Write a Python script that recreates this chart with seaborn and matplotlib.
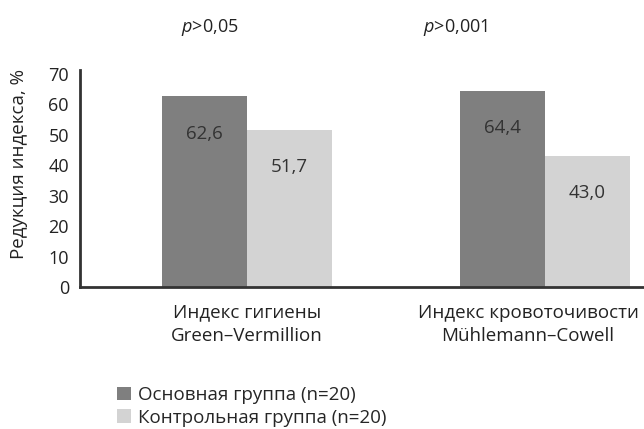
import matplotlib
matplotlib.use("Agg")
import matplotlib.pyplot as plt
from matplotlib.transforms import ScaledTranslation
import seaborn as sns
import pandas as pd

# Data
categories = ["Индекс гигиены\nGreen–Vermillion", "Индекс кровоточивости\nMühlemann–Cowell"]
groups = ["Основная группа (n=20)", "Контрольная группа (n=20)"]
main_values = [62.6, 64.4]
control_values = [51.7, 43.0]
p_labels = ["0,05", "0,001"]
y_ticks = [0, 10, 20, 30, 40, 50, 60, 70]

df = pd.DataFrame({
    "category": categories * 2,
    "group": [groups[0]] * 2 + [groups[1]] * 2,
    "value": main_values + control_values,
})

sns.set_theme(style="white")
plt.rcParams["font.family"] = ["Open Sans", "DejaVu Sans"]
plt.rcParams["mathtext.fontset"] = "custom"
plt.rcParams["mathtext.it"] = "Open Sans:italic"
plt.rcParams["mathtext.rm"] = "Open Sans"

TXT = "#222222"
FS = 13.5

fig = plt.figure(figsize=(6.44, 4.29), dpi=100)
ax = fig.add_axes([80 / 644, 1 - 287 / 429, 1 - 80 / 644, (287 - 70) / 429])

palette = {groups[0]: "#7f7f7f", groups[1]: "#d3d3d3"}
sns.barplot(data=df, x="category", y="value", hue="group", order=categories,
            hue_order=groups, palette=palette, width=0.57, saturation=1,
            linewidth=0, ax=ax, legend=True)

# Value labels inside bars
for container in ax.containers:
    for bar in container:
        h = bar.get_height()
        ax.text(bar.get_x() + bar.get_width() / 2, h - 12.2, f"{h:.1f}".replace(".", ","),
                ha="center", va="center", fontsize=FS, color="#333333")

ax.set_xlim(-0.56, 1.332)
ax.set_ylim(0, 71.3)
ax.set_yticks(y_ticks)
ax.set_yticklabels([str(t) for t in y_ticks], fontsize=13, color=TXT)
ax.tick_params(axis="y", length=0, pad=8)
ax.tick_params(axis="x", length=0, pad=12)
for lbl in ax.get_xticklabels():
    lbl.set_fontsize(FS)
    lbl.set_color(TXT)
    lbl.set_linespacing(1.35)
# keep the long right-hand label inside the figure
last = ax.get_xticklabels()[-1]
last.set_transform(last.get_transform() + ScaledTranslation(-17 / 100, 0, fig.dpi_scale_trans))

ax.set_xlabel("")
ax.set_ylabel("Редукция индекса, %", fontsize=FS, color=TXT)
ax.yaxis.set_label_coords(-0.093, 0.567)

for side in ["top", "right"]:
    ax.spines[side].set_visible(False)
for side in ["left", "bottom"]:
    ax.spines[side].set_color("#333333")
    ax.spines[side].set_linewidth(2)

# Significance annotations
for xf, p in zip([210 / 644, 455 / 644], p_labels):
    fig.text(xf, 1 - 27 / 429, f"$\\it{{p}}$>{p}", ha="center", va="center",
             fontsize=13, color=TXT)

handles, labels = ax.get_legend_handles_labels()
ax.legend(handles, labels, loc="upper left", bbox_to_anchor=(117 / 644, 1 - 386 / 429),
          bbox_transform=fig.transFigure, frameon=False, fontsize=FS,
          handlelength=0.75, handleheight=0.75, handletextpad=0.35, labelspacing=0.25,
          borderaxespad=0, borderpad=0)

fig.savefig("out.png", dpi=100)
